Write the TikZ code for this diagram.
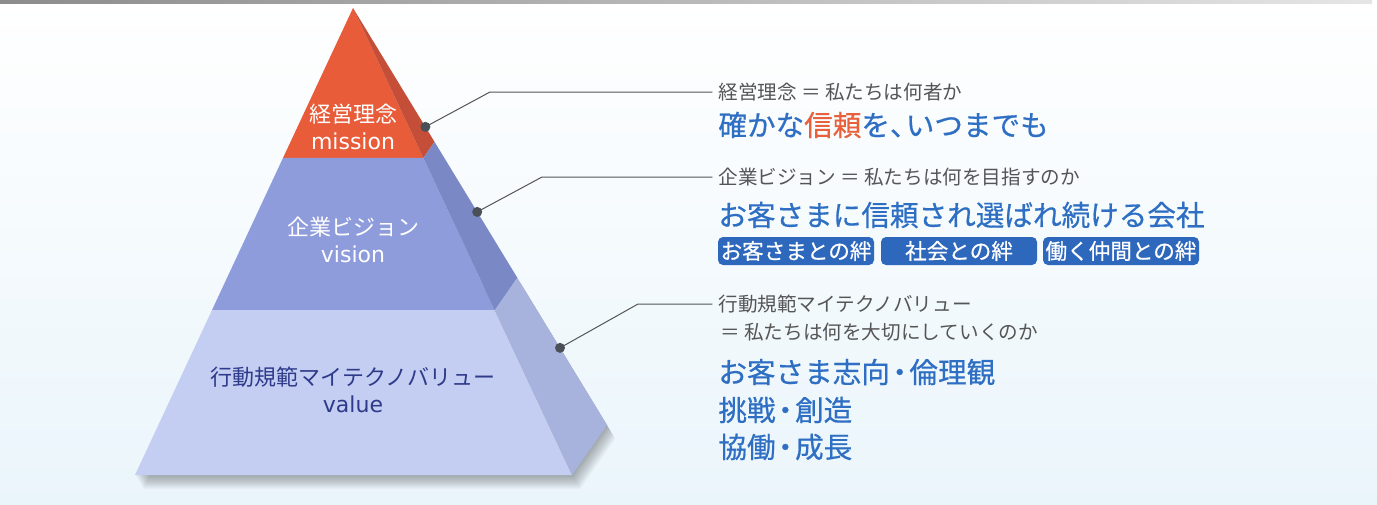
\documentclass[tikz,border=0pt]{standalone}
\usepackage{fontspec}
\setmainfont{Noto Sans CJK JP}
\newfontfamily\jpmed[FakeBold=0.6]{Noto Sans CJK JP}
\newfontfamily\latinlbl{DejaVu Sans}
\usetikzlibrary{calc}
\usetikzlibrary{positioning}

\definecolor{missfront}{RGB}{232,92,58}
\definecolor{missside}{RGB}{196,78,56}
\definecolor{visfront}{RGB}{142,156,220}
\definecolor{visside}{RGB}{122,136,198}
\definecolor{valfront}{RGB}{196,206,242}
\definecolor{valside}{RGB}{168,179,221}
\definecolor{bgblue}{RGB}{234,245,251}
\definecolor{txtblue}{RGB}{46,111,196}
\definecolor{txtred}{RGB}{232,96,60}
\definecolor{txtgray}{RGB}{85,85,85}
\definecolor{navy}{RGB}{46,58,138}
\definecolor{boxblue}{RGB}{45,104,188}
\definecolor{dotgray}{RGB}{74,79,88}

% half-width punctuation
\newcommand{\hdot}{\kern-0.16em・\kern-0.16em}
\newcommand{\hcomma}{、\kern-0.45em}

\tikzset{
  tierlabel/.style={align=center,font=\fontsize{11}{13.5}\selectfont},
  headtxt/.style={anchor=west,inner sep=3pt,text=txtgray,font=\fontsize{9.8}{12}\selectfont},
  bigtxt/.style={anchor=west,inner sep=3pt,text=txtblue,font=\jpmed\fontsize{14.3}{17}\selectfont},
  bondbox/.style={fill=boxblue,rounded corners=2.5pt,text=white,minimum width=78pt,
    minimum height=14pt,inner sep=0pt,font=\jpmed\fontsize{10.8}{12}\selectfont},
  leader/.style={line width=0.5pt,draw=txtgray},
  leaderdot/.style={fill=dotgray}
}

\begin{document}
\begin{tikzpicture}[line cap=round,line join=round,x=0.5pt,y=-0.5pt]
\useasboundingbox (0,0) rectangle (1377,504);
% background
\shade[top color=white,middle color=white,bottom color=bgblue] (0,0) rectangle (1377,504);
\shade[left color=black!45,right color=black!10] (0,0) rectangle (1372,3);

% pyramid corners
\coordinate (apex) at (353,8);
\coordinate (fl) at (135,475);
\coordinate (fr) at (572,475);
\coordinate (bk) at (607,425);
\coordinate (l1) at ($(apex)!0.321!(fl)$);
\coordinate (r1) at ($(apex)!0.321!(fr)$);
\coordinate (b1) at ($(apex)!0.321!(bk)$);
\coordinate (l2) at ($(apex)!0.647!(fl)$);
\coordinate (r2) at ($(apex)!0.647!(fr)$);
\coordinate (b2) at ($(apex)!0.647!(bk)$);

% soft shadow
\foreach \s in {1,...,14}
  \fill[black,opacity=0.022] ($(l2)+(0.6*\s,\s)$) -- ($(fl)+(0.6*\s,\s)$)
     -- ($(fr)+(0.6*\s,\s)$) -- ($(bk)+(0.6*\s,\s)$) -- ($(b2)+(0.6*\s,\s)$) -- cycle;

% front faces
\fill[missfront] (apex) -- (l1) -- (r1) -- cycle;
\fill[visfront] (l1) -- (l2) -- (r2) -- (r1) -- cycle;
\fill[valfront] (l2) -- (fl) -- (fr) -- (r2) -- cycle;
% side faces
\fill[missside] (apex) -- (r1) -- (b1) -- cycle;
\fill[visside] (r1) -- (r2) -- (b2) -- (b1) -- cycle;
\fill[valside] (r2) -- (fr) -- (bk) -- (b2) -- cycle;

% tier labels
\node[tierlabel,text=white] (mission) at (353,127) {経営理念\\{\latinlbl mission}};
\node[tierlabel,text=white] (vision) at (353,240) {企業ビジョン\\{\latinlbl vision}};
\node[tierlabel,text=navy] (value) at (353,390) {行動規範マイテクノバリュー\\{\latinlbl value}};

% right side texts
\node[headtxt] (mhead) at (712,92) {経営理念 ＝ 私たちは何者か};
\node[bigtxt] (mbody) at (712,125) {確かな\textcolor{txtred}{信頼}を\hcomma いつまでも};
\node[headtxt] (vhead) at (712,177) {企業ビジョン ＝ 私たちは何を目指すのか};
\node[bigtxt] (vbody) at (712,215) {お客さまに信頼され選ばれ続ける会社};
\node[bondbox] (bond1) at (796,251) {お客さまとの絆};
\node[bondbox] (bond2) at (959,251) {社会との絆};
\node[bondbox] (bond3) at (1121,251) {働く仲間との絆};
\node[headtxt] (vlhead) at (712,304) {行動規範マイテクノバリュー};
\node[headtxt] (vlsub) at (714,332) {＝ 私たちは何を大切にしていくのか};
\node[bigtxt] (vlbody1) at (712,372) {お客さま志向\hdot 倫理観};
\node[bigtxt] (vlbody2) at (712,410) {挑戦\hdot 創造};
\node[bigtxt] (vlbody3) at (712,447) {協働\hdot 成長};

% leaders
\coordinate (mdot) at ($(apex)!0.285!(bk)$);
\coordinate (vdot) at ($(apex)!0.489!(bk)$);
\coordinate (vldot) at ($(apex)!0.815!(bk)$);
\draw[leader] (mdot) -- (490,92) -- (mhead.west);
\draw[leader] (vdot) -- (542,177) -- (vhead.west);
\draw[leader] (vldot) -- (638,304) -- (vlhead.west);
\foreach \d in {mdot,vdot,vldot}
  \fill[leaderdot] (\d) circle (5);
\end{tikzpicture}
\end{document}
